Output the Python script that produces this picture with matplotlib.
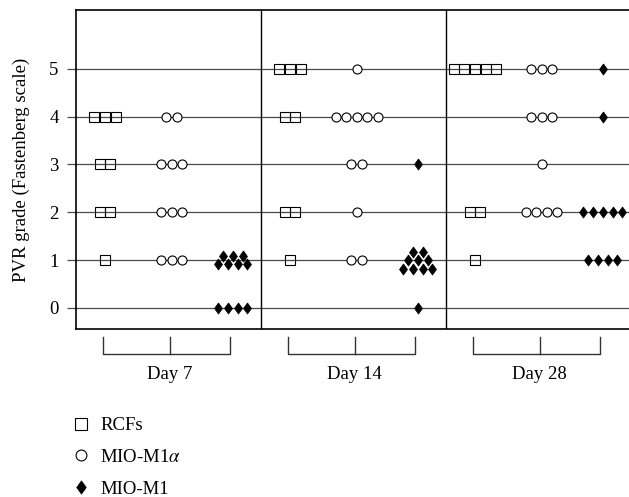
import numpy as np
import matplotlib.pyplot as plt
from matplotlib.path import Path

plt.rcParams["font.family"] = ["Liberation Serif", "DejaVu Serif"]
plt.rcParams["mathtext.fontset"] = "stix"

# ---------------------------------------------------------------- data
days = ["Day 7", "Day 14", "Day 28"]
groups = ["RCFs", "MIO-M1$\\alpha$", "MIO-M1"]
grades = [0, 1, 2, 3, 4, 5]

# eyes per PVR grade 0..5, one list per day
rcf = [[0, 1, 2, 2, 3, 0],
       [0, 1, 2, 0, 2, 3],
       [0, 1, 2, 0, 0, 5]]
mio_alpha = [[0, 3, 3, 3, 2, 0],
             [0, 2, 1, 2, 5, 1],
             [0, 0, 4, 1, 3, 3]]
mio = [[4, 7, 0, 0, 0, 0],
       [1, 9, 0, 1, 0, 0],
       [0, 4, 5, 0, 1, 1]]

# ---------------------------------------------------------------- styling
FS = 13.5
DIAMOND = Path([(0, 1), (0.72, 0), (0, -1), (-0.72, 0), (0, 1)])
styles = [dict(marker="s", ms=7.6, mfc="none", mec="black", mew=0.8, step=0.172),
          dict(marker="o", ms=6.5, mfc="white", mec="black", mew=0.8, step=0.17),
          dict(marker=DIAMOND, ms=8.0, mfc="black", mec="black", mew=0.5, step=0.16)]
group_x = [0.47, 1.55, 2.54]       # group centres inside a day panel
bracket_x = [0.43, 1.52, 2.50]


def positions(n, xc, g, step):
    """x, y of n markers around (xc, g); big counts stack as a pyramid."""
    if n <= 5:
        rows = [n]
    else:
        rows, left, width = [], n, 4
        while left > 0:
            rows.append(min(width, left))
            left -= rows[-1]
            width -= 1
    xs, ys = [], []
    k = len(rows)
    for r, m in enumerate(rows):
        yr = g + (r - (k - 1) / 2) * 0.18
        for i in range(m):
            xs.append(xc + (i - (m - 1) / 2) * step)
            ys.append(yr)
    return xs, ys


fig = plt.figure(figsize=(6.29, 4.97), dpi=100)
ax = fig.add_axes([76 / 629, 1 - 329 / 497, 553 / 629, 319 / 497])
ax.set_xlim(0, 553 / 61.67)
ax.set_ylim(-0.44, 6.23)

handles = [None, None, None]
for d in range(len(days)):
    for gi, counts in enumerate([rcf, mio_alpha, mio]):
        st = dict(styles[gi])
        step = st.pop("step")
        xs, ys = [], []
        for g, n in zip(grades, counts[d]):
            px, py = positions(n, 3 * d + group_x[gi], g, step)
            xs += px
            ys += py
        h, = ax.plot(xs, ys, linestyle="none", zorder=3, **st)
        handles[gi] = h

# grid, dividers, spines
ax.set_yticks(grades)
ax.set_xticks([])
ax.grid(axis="y", color="#4a4a4a", lw=0.9)
ax.set_axisbelow(True)
ax.tick_params(axis="y", length=6.5, width=0.9, color="#4a4a4a",
               pad=6, labelsize=FS)
for x in (3, 6):
    ax.axvline(x, color="black", lw=1.0, zorder=2)
for side in ("left", "top", "bottom"):
    ax.spines[side].set_linewidth(1.2)
ax.spines["right"].set_visible(False)

ax.set_ylabel("PVR grade (Fastenberg scale)", fontsize=FS)
ax.yaxis.set_label_coords(-0.083, 0.5)

# day brackets under the axis
for d, day in enumerate(days):
    xa, xm, xb = [3 * d + b for b in bracket_x]
    ax.plot([xa, xa, xb, xb], [-0.61, -0.96, -0.96, -0.61], color="#333333",
            lw=1.0, clip_on=False)
    ax.plot([xm, xm], [-0.61, -0.96], color="#333333", lw=1.0, clip_on=False)
    ax.text(xm, -1.40, day, ha="center", va="center", fontsize=FS)

fig.legend(handles, groups, loc="upper left",
           bbox_to_anchor=(72 / 629, 1 - 417 / 497), frameon=False,
           borderpad=0, borderaxespad=0, handlelength=1.0, handletextpad=0.5,
           labelspacing=0.78, fontsize=FS, markerscale=1.2)

fig.savefig("out.png", dpi=100)
